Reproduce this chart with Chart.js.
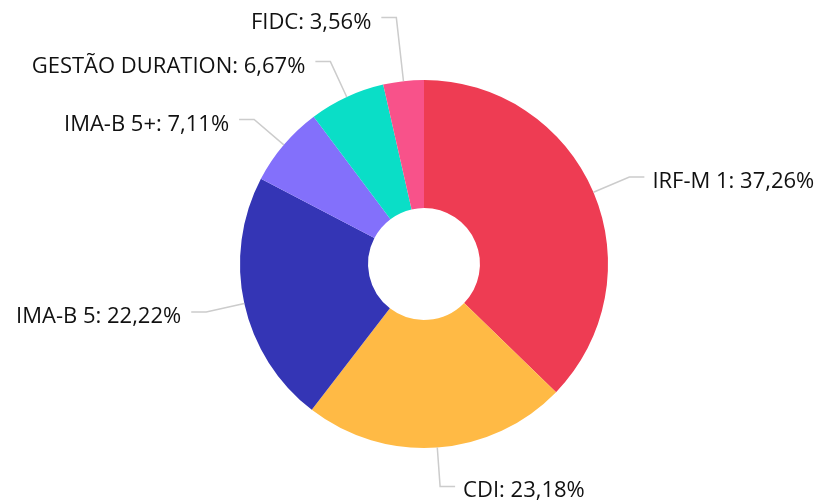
<!DOCTYPE html>
<html>
<head>
<meta charset="utf-8">
<script src="https://cdn.jsdelivr.net/npm/chart.js@4.4.0/dist/chart.umd.min.js"></script>
<style>
  html, body { margin: 0; padding: 0; background: #fff; }
  #wrap { width: 822px; height: 504px; position: relative; }
</style>
</head>
<body>
<div id="wrap"><canvas id="chart"></canvas></div>
<script>
const labels = ['IRF-M 1', 'CDI', 'IMA-B 5', 'IMA-B 5+', 'GESTÃO DURATION', 'FIDC'];
const values = [37.26, 23.18, 22.22, 7.11, 6.67, 3.56];
const colors = ['#EE3C53', '#FFBA45', '#3435B5', '#8370FB', '#0ADEC7', '#F8528A'];

// leader lines + outside labels
const outLabels = {
  id: 'outLabels',
  afterDraw(chart) {
    const ctx = chart.ctx;
    const meta = chart.getDatasetMeta(0);
    const items = [];
    meta.data.forEach((arc, i) => {
      const p = arc.getProps(['x', 'y', 'startAngle', 'endAngle', 'outerRadius'], true);
      const mid = (p.startAngle + p.endAngle) / 2;
      const cos = Math.cos(mid), sin = Math.sin(mid);
      const r2 = p.outerRadius + 39;
      items.push({
        i: i, cx: p.x, cy: p.y, mid: mid, cos: cos, sin: sin,
        sx: p.x + cos * p.outerRadius, sy: p.y + sin * p.outerRadius,
        r2: r2, y: p.y + sin * r2, right: cos >= 0
      });
    });
    // push apart labels on each side
    [true, false].forEach(side => {
      const list = items.filter(it => it.right === side).sort((a, b) => b.y - a.y);
      for (let k = 1; k < list.length; k++) {
        if (list[k - 1].y - list[k].y < 44) list[k].y = list[k - 1].y - 44;
      }
    });
    ctx.save();
    ctx.font = '22px "Open Sans"';
    ctx.textBaseline = 'alphabetic';
    items.forEach(it => {
      // elbow on the ray at label's y
      const t = (it.y - it.cy) / it.sin;
      const ex = it.cx + it.cos * t;
      const hx = it.right ? ex + 15 : ex - 15;
      ctx.strokeStyle = '#cccccc';
      ctx.lineWidth = 1.5;
      ctx.beginPath();
      ctx.moveTo(it.sx, it.sy);
      ctx.lineTo(ex, it.y);
      ctx.lineTo(hx, it.y);
      ctx.stroke();
      const txt = labels[it.i] + ': ' + values[it.i].toFixed(2).replace('.', ',') + '%';
      ctx.fillStyle = '#111111';
      ctx.textAlign = it.right ? 'left' : 'right';
      ctx.fillText(txt, it.right ? hx + 8 : hx - 10, it.y + 11);
    });
    ctx.restore();
  }
};

new Chart(document.getElementById('chart'), {
  type: 'doughnut',
  data: {
    labels: labels,
    datasets: [{
      data: values,
      backgroundColor: colors,
      borderWidth: 0,
      hoverOffset: 0
    }]
  },
  options: {
    responsive: true,
    maintainAspectRatio: false,
    animation: false,
    cutout: '30.4%',
    layout: { padding: { left: 240, right: 214, top: 80, bottom: 56 } },
    plugins: {
      legend: { display: false },
      tooltip: { enabled: false }
    }
  },
  plugins: [outLabels]
});
</script>
</body>
</html>
